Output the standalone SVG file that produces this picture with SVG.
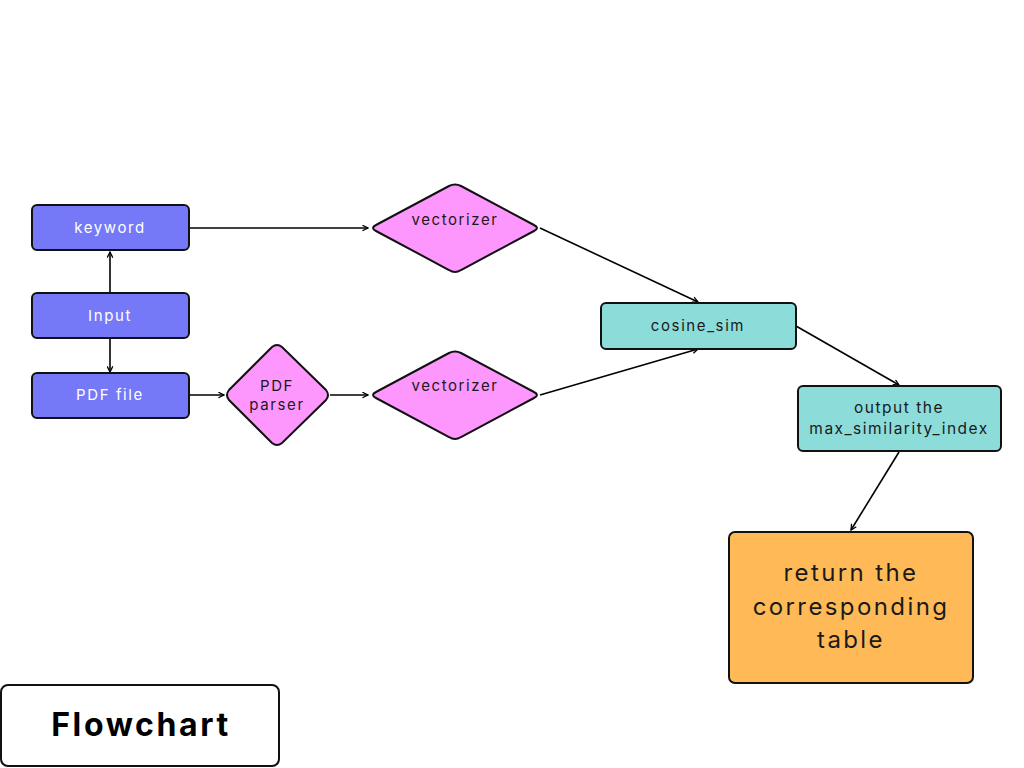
<svg xmlns="http://www.w3.org/2000/svg" width="1024" height="768" viewBox="0 0 1024 768">
<defs>
<marker id="ah" viewBox="0 0 10 10" refX="9" refY="5" markerWidth="7" markerHeight="7" markerUnits="userSpaceOnUse" orient="auto">
<path d="M1,1 L9,5 L1,9" fill="none" stroke="#000" stroke-width="1.8"/>
</marker>
<style>
.box{stroke:#111;stroke-width:2}
.blue{fill:#7579F7}
.pink{fill:#FE97FD}
.teal{fill:#8CDCDA}
.orange{fill:#FFBA57}
.t{font-family:"Inter","Liberation Sans",sans-serif;font-size:15px;letter-spacing:1.6px;text-anchor:middle;dominant-baseline:central;fill:#1a1a1a}
.w{fill:#fff}
.c{stroke:#000;stroke-width:1.6;fill:none;marker-end:url(#ah)}
</style>
</defs>
<rect width="1024" height="768" fill="#fff"/>
<g id="connectors">
<line class="c" x1="190" y1="228" x2="368" y2="228"/>
<line class="c" x1="110" y1="293" x2="110" y2="252"/>
<line class="c" x1="110" y1="338" x2="110" y2="372"/>
<line class="c" x1="190" y1="395" x2="224" y2="395"/>
<line class="c" x1="330" y1="395" x2="368" y2="395"/>
<line class="c" x1="540" y1="228" x2="698" y2="302"/>
<line class="c" x1="540" y1="395" x2="698" y2="349"/>
<line class="c" x1="796" y1="326" x2="899" y2="385"/>
<line class="c" x1="899" y1="452" x2="851" y2="530"/>
</g>
<g id="keyword">
<rect class="box blue" x="32" y="205" width="157" height="45" rx="5"/>
<text class="t w" x="110" y="227">keyword</text>
</g>
<g id="input">
<rect class="box blue" x="32" y="293" width="157" height="45" rx="5"/>
<text class="t w" x="110" y="315">Input</text>
</g>
<g id="pdffile">
<rect class="box blue" x="32" y="373" width="157" height="45" rx="5"/>
<text class="t w" x="110" y="394">PDF file</text>
</g>
<g id="pdfparser">
<path class="box pink" d="M272,347 Q277,343 282,347 L326,390 Q330,395 326,400 L282,443 Q277,447 272,443 L229,400 Q225,395 229,390 Z"/>
<text class="t" x="277" y="385">PDF</text>
<text class="t" x="277" y="404">parser</text>
</g>
<g id="vectorizer1">
<path class="box pink" d="M449,186 Q455,183 461,186 L534,225 Q540,228 534,231 L461,270 Q455,274 449,270 L376,231 Q370,228 376,225 Z"/>
<text class="t" x="455" y="219">vectorizer</text>
</g>
<g id="vectorizer2">
<path class="box pink" d="M449,353 Q455,350 461,353 L534,392 Q540,395 534,398 L461,437 Q455,441 449,437 L376,398 Q370,395 376,392 Z"/>
<text class="t" x="455" y="385">vectorizer</text>
</g>
<g id="cosine_sim">
<rect class="box teal" x="601" y="303" width="195" height="46" rx="5"/>
<text class="t" x="698" y="325">cosine_sim</text>
</g>
<g id="output">
<rect class="box teal" x="798" y="386" width="203" height="65" rx="5"/>
<text class="t" x="899" y="407" style="font-size:15.5px;letter-spacing:1.5px">output the</text>
<text class="t" x="899" y="428" style="font-size:15.5px;letter-spacing:1.5px">max_similarity_index</text>
</g>
<g id="return">
<rect class="box orange" x="729" y="532" width="244" height="151" rx="6"/>
<text class="t" x="851" y="572" style="font-size:24px;letter-spacing:2.4px">return the</text>
<text class="t" x="851" y="606" style="font-size:24px;letter-spacing:2.4px">corresponding</text>
<text class="t" x="851" y="639" style="font-size:24px;letter-spacing:2.4px">table</text>
</g>
<g id="title">
<rect x="1" y="685" width="278" height="81" rx="7" fill="#fff" stroke="#111" stroke-width="2"/>
<text class="t" x="141" y="724" style="font-size:32px;font-weight:700;letter-spacing:2.6px;fill:#000">Flowchart</text>
</g>
</svg>
